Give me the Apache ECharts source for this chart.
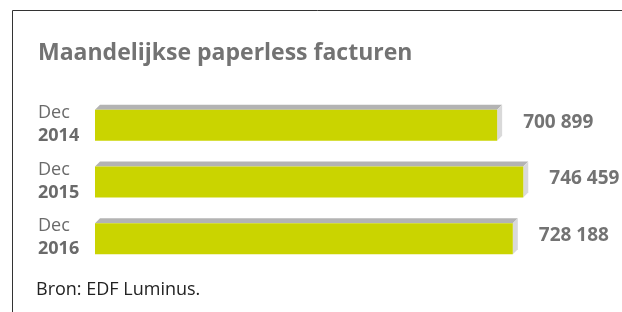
<!DOCTYPE html>
<html>
<head>
<meta charset="utf-8">
<title>Maandelijkse paperless facturen</title>
<script src="https://cdn.jsdelivr.net/npm/echarts@6/dist/echarts.min.js"></script>
<style>
  html, body { margin: 0; padding: 0; background: #fff; }
  #main { width: 622px; height: 312px; }
</style>
</head>
<body>
<div id="main"></div>
<script>
// data
var months = ['Dec', 'Dec', 'Dec']
var years = ['2014', '2015', '2016']
var values = [700899, 746459, 728188]

var font = '"Open Sans", "Noto Sans", sans-serif'
var depth = 5

var fmt = function(v) {
    return String(v).replace(/\B(?=(\d{3})+(?!\d))/g, ' ')
}

var chart = echarts.init(document.getElementById('main'))

var option = {
    animation: false,
    title: {
        text: 'Maandelijkse paperless facturen',
        left: 38,
        top: 42,
        padding: 0,
        textStyle: { fontFamily: font, fontSize: 23, fontWeight: 'bold', color: '#737373' }
    },
    graphic: [
        { type: 'line', shape: { x1: 12.5, y1: 10.5, x2: 622, y2: 10.5 }, style: { stroke: '#333', lineWidth: 1 } },
        { type: 'line', shape: { x1: 12.5, y1: 10.5, x2: 12.5, y2: 312 }, style: { stroke: '#333', lineWidth: 1 } },
        { type: 'text', x: 36, y: 290, style: { text: 'Bron: EDF Luminus.', font: '18px ' + font, fill: '#222', verticalAlign: 'middle' } }
    ],
    grid: { left: 95, top: 96, height: 170, width: 459 },
    xAxis: { type: 'value', min: 0, max: 800000, show: false },
    yAxis: {
        type: 'category',
        inverse: true,
        data: years,
        axisLine: { show: false },
        axisTick: { show: false },
        axisLabel: {
            align: 'left',
            margin: 57,
            formatter: function(v, i) {
                return '{m|' + months[i] + '}\n{y|' + v + '}'
            },
            rich: {
                m: { fontFamily: font, fontSize: 18, color: '#6a6a6a', lineHeight: 23 },
                y: { fontFamily: font, fontSize: 18, fontWeight: 'bold', color: '#6a6a6a', lineHeight: 23 }
            }
        }
    },
    series: [{
        type: 'custom',
        data: values.map(function(v, i) { return [v, i] }),
        renderItem: function(params, api) {
            var p0 = api.coord([0, api.value(1)])
            var p1 = api.coord([api.value(0), api.value(1)])
            var h = 31
            var x0 = p0[0], x1 = p1[0]
            var yt = p0[1] - h / 2 + 1, yb = yt + h
            return {
                type: 'group',
                children: [
                    { type: 'polygon', shape: { points: [[x0, yt], [x0 + depth, yt - depth], [x1 + depth, yt - depth], [x1, yt]] }, style: { fill: '#b3b3b3' } },
                    { type: 'polygon', shape: { points: [[x1, yt], [x1 + depth, yt - depth], [x1 + depth, yb - depth], [x1, yb]] }, style: { fill: '#d9d9d9' } },
                    { type: 'rect', shape: { x: x0, y: yt, width: x1 - x0, height: h }, style: { fill: '#cad400' } },
                    { type: 'text', style: { text: fmt(api.value(0)), x: x1 + depth + 21, y: (yt + yb) / 2 - 3, verticalAlign: 'middle', font: 'bold 19px ' + font, fill: '#737373' } }
                ]
            }
        }
    }]
}

chart.setOption(option)
</script>
</body>
</html>
